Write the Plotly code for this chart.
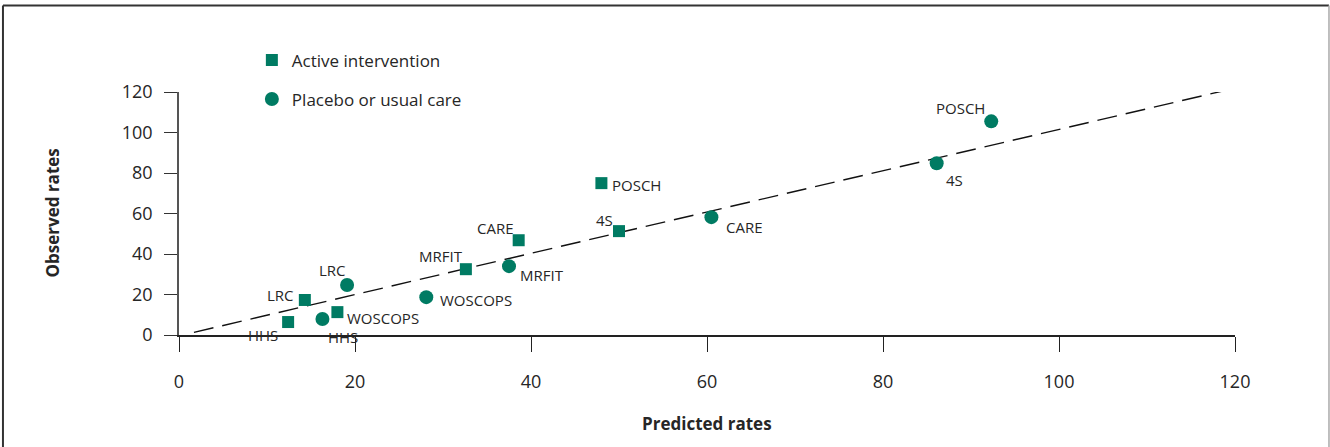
import plotly.graph_objects as go

# ---- data ----
active_names = ["HHS", "LRC", "WOSCOPS", "MRFIT", "CARE", "4S", "POSCH"]
active_pred = [12.4, 14.3, 18.0, 32.6, 38.6, 50.0, 48.0]
active_obs = [6.4, 17.3, 11.3, 32.5, 46.8, 51.3, 75.0]

placebo_names = ["HHS", "LRC", "WOSCOPS", "MRFIT", "CARE", "4S", "POSCH"]
placebo_pred = [16.3, 19.1, 28.1, 37.5, 60.5, 86.1, 92.3]
placebo_obs = [7.9, 24.7, 18.7, 34.0, 58.2, 84.8, 105.5]

fit_x = [1.7, 120]
fit_y = [1.3, 121.9]

x_ticks = [0, 20, 40, 60, 80, 100, 120]
y_ticks = [0, 20, 40, 60, 80, 100, 120]

# label offsets in pixels (dx right, dy down)
active_off = [(-25, 13), (-24, -5), (46, 6), (-25, -13), (-23, -12), (-15, -11), (35, 2)]
placebo_off = [(21, 18), (-15, -15), (50, 3), (33, 9), (33, 10), (18, 17), (-31, -13)]

GREEN = "#007B63"
TXT = "#262626"
FONT = "Open Sans"

fig = go.Figure()

fig.add_trace(go.Scatter(
    x=fit_x, y=fit_y, mode="lines",
    line=dict(color="#111111", width=1.4, dash="20px,9px"),
    showlegend=False, hoverinfo="skip"))

fig.add_trace(go.Scatter(
    x=active_pred, y=active_obs, mode="markers", name="Active intervention",
    marker=dict(symbol="square", size=12, color=GREEN),
    legendgroup="a", cliponaxis=False))

fig.add_trace(go.Scatter(
    x=placebo_pred, y=placebo_obs, mode="markers", name="Placebo or usual care",
    marker=dict(symbol="circle", size=14, color=GREEN),
    legendgroup="p", cliponaxis=False))

anns = []
for names, xs, ys, offs in [(active_names, active_pred, active_obs, active_off),
                            (placebo_names, placebo_pred, placebo_obs, placebo_off)]:
    for n, x, y, (dx, dy) in zip(names, xs, ys, offs):
        anns.append(dict(x=x, y=y, xref="x", yref="y", text=n, showarrow=False,
                         xshift=dx, yshift=-dy, xanchor="center", yanchor="middle",
                         font=dict(family=FONT, size=15, color=TXT)))

anns.append(dict(x=0, y=0.5, xref="paper", yref="paper", text="<b>Observed rates</b>",
                 showarrow=False, textangle=-90, xshift=-127, xanchor="center",
                 yanchor="middle", font=dict(family=FONT, size=17, color=TXT)))
anns.append(dict(x=0.5, y=0, xref="paper", yref="paper", text="<b>Predicted rates</b>",
                 showarrow=False, yshift=-88, xanchor="center", yanchor="middle",
                 font=dict(family=FONT, size=17, color=TXT)))

shapes = [
    dict(type="line", xref="paper", yref="paper", x0=-0.1667, x1=-0.1667, y0=-0.6, y1=1.356,
         line=dict(color="#333333", width=2)),
    dict(type="line", xref="paper", yref="paper", x0=-0.1667, x1=1.089, y0=1.356, y1=1.356,
         line=dict(color="#333333", width=2)),
    dict(type="line", xref="paper", yref="paper", x0=1.089, x1=1.089, y0=-0.6, y1=1.356,
         line=dict(color="#aaaaaa", width=1.5)),
]

fig.update_layout(
    width=1330, height=447,
    margin=dict(l=179, r=95, t=92, b=112),
    paper_bgcolor="white", plot_bgcolor="white",
    font=dict(family=FONT, color=TXT),
    showlegend=True,
    legend=dict(x=0.069, y=1.05, xref="paper", yref="paper", xanchor="left", yanchor="middle",
                traceorder="grouped", tracegroupgap=14,
                font=dict(family=FONT, size=17, color=TXT), bgcolor="rgba(0,0,0,0)"),
    annotations=anns,
    shapes=shapes,
)

fig.update_xaxes(range=[0, 120], tickvals=x_ticks, showgrid=False, zeroline=False,
                 showline=True, linecolor="#222222", linewidth=2,
                 ticks="outside", ticklen=15, tickcolor="#222222", tickwidth=1.2,
                 ticklabelstandoff=14, tickfont=dict(family=FONT, size=18, color=TXT))
fig.update_yaxes(range=[0, 120], tickvals=y_ticks, showgrid=False, zeroline=False,
                 showline=True, linecolor="#555555", linewidth=1.5,
                 ticks="outside", ticklen=13, tickcolor="#333333", tickwidth=1.2,
                 ticklabelstandoff=8, tickfont=dict(family=FONT, size=18, color=TXT))

fig.write_html("out.html", config={"displayModeBar": False})

# remove the default page margin so the figure sits at the window origin
with open("out.html", "r", encoding="utf-8") as f:
    html = f.read()
html = html.replace("<body>", '<body style="margin:0;overflow:hidden">', 1)
with open("out.html", "w", encoding="utf-8") as f:
    f.write(html)
